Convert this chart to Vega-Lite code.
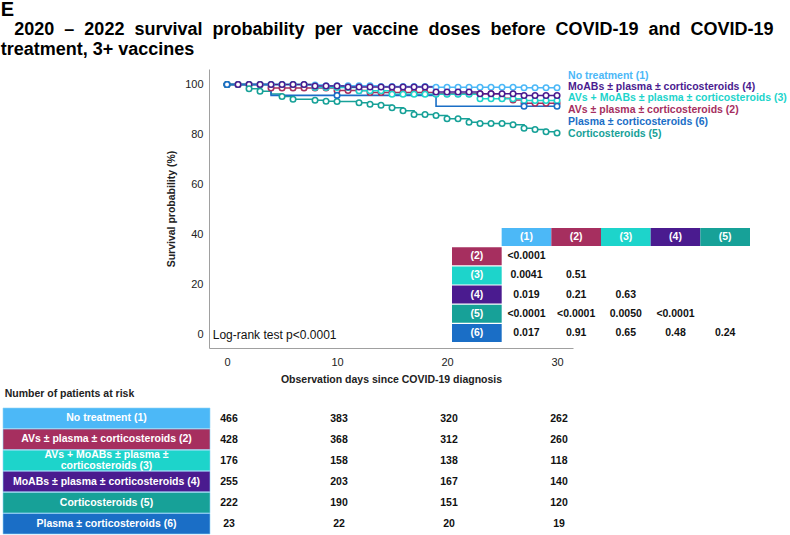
{
  "$schema": "https://vega.github.io/schema/vega-lite/v6.json",
  "background": "white",
  "padding": {"left": 0, "top": 0, "right": 0, "bottom": 0},
  "config": {"font": "Liberation Sans", "view": {"stroke": null}},
  "title": {
    "text": "E",
    "subtitle": ["\u200b\u00a0\u00a0\u20092020\u00a0 \u2013\u00a0 2022\u00a0 survival\u00a0 probability\u00a0 per\u00a0 vaccine\u00a0 doses\u00a0 before\u00a0 COVID-19\u00a0 and\u00a0 COVID-19", "treatment, 3+ vaccines"],
    "anchor": "start",
    "dx": -2,
    "font": "Liberation Sans",
    "fontSize": 20,
    "fontWeight": "bold",
    "color": "#000",
    "subtitleFont": "Liberation Sans",
    "subtitleFontSize": 18,
    "subtitleFontWeight": "bold",
    "subtitleColor": "#000",
    "subtitleLineHeight": 20,
    "subtitlePadding": 1,
    "offset": 10
  },
  "datasets": {
    "groups": [
      {"grp": "(1)", "name": "No treatment (1)", "riskLabel": "No treatment (1)"},
      {"grp": "(2)", "name": "AVs \u00b1 plasma \u00b1 corticosteroids (2)", "riskLabel": "AVs \u00b1 plasma \u00b1 corticosteroids (2)"},
      {"grp": "(3)", "name": "AVs + MoABs \u00b1 plasma \u00b1 corticosteroids (3)", "riskLabel": "AVs + MoABs \u00b1 plasma \u00b1\ncorticosteroids (3)"},
      {"grp": "(4)", "name": "MoABs \u00b1 plasma \u00b1 corticosteroids (4)", "riskLabel": "MoABs \u00b1 plasma \u00b1 corticosteroids (4)"},
      {"grp": "(5)", "name": "Corticosteroids (5)", "riskLabel": "Corticosteroids (5)"},
      {"grp": "(6)", "name": "Plasma \u00b1 corticosteroids (6)", "riskLabel": "Plasma \u00b1 corticosteroids (6)"}
    ],
    "km": [
      {"grp":"(1)","day":0,"surv":100,"censor":1},{"grp":"(1)","day":1,"surv":100,"censor":1},{"grp":"(1)","day":2,"surv":100,"censor":1},{"grp":"(1)","day":3,"surv":100,"censor":1},{"grp":"(1)","day":4,"surv":100,"censor":1},{"grp":"(1)","day":5,"surv":100,"censor":1},{"grp":"(1)","day":6,"surv":100,"censor":1},{"grp":"(1)","day":7,"surv":99.8,"censor":1},{"grp":"(1)","day":8,"surv":99.8,"censor":1},{"grp":"(1)","day":9,"surv":99.5,"censor":1},{"grp":"(1)","day":10,"surv":99.5,"censor":1},{"grp":"(1)","day":11,"surv":99.5,"censor":1},{"grp":"(1)","day":12,"surv":99.5,"censor":1},{"grp":"(1)","day":13,"surv":99.5,"censor":1},{"grp":"(1)","day":14,"surv":99.2,"censor":1},{"grp":"(1)","day":15,"surv":99.2,"censor":1},{"grp":"(1)","day":16,"surv":99.2,"censor":1},{"grp":"(1)","day":17,"surv":99.2,"censor":1},{"grp":"(1)","day":18,"surv":99.2,"censor":1},{"grp":"(1)","day":19,"surv":98.9,"censor":1},{"grp":"(1)","day":20,"surv":98.9,"censor":1},{"grp":"(1)","day":21,"surv":98.9,"censor":1},{"grp":"(1)","day":22,"surv":98.9,"censor":1},{"grp":"(1)","day":23,"surv":98.9,"censor":1},{"grp":"(1)","day":24,"surv":98.9,"censor":1},{"grp":"(1)","day":25,"surv":98.9,"censor":1},{"grp":"(1)","day":26,"surv":98.9,"censor":1},{"grp":"(1)","day":27,"surv":98.7,"censor":1},{"grp":"(1)","day":28,"surv":98.7,"censor":1},{"grp":"(1)","day":29,"surv":98.7,"censor":1},{"grp":"(1)","day":30,"surv":98.7,"censor":1},
      {"grp":"(2)","day":0,"surv":100,"censor":1},{"grp":"(2)","day":1,"surv":100,"censor":1},{"grp":"(2)","day":2,"surv":100,"censor":1},{"grp":"(2)","day":3,"surv":100,"censor":1},{"grp":"(2)","day":4,"surv":98.6,"censor":1},{"grp":"(2)","day":5,"surv":98.6,"censor":1},{"grp":"(2)","day":6,"surv":98.6,"censor":1},{"grp":"(2)","day":7,"surv":98.6,"censor":1},{"grp":"(2)","day":8,"surv":98.6,"censor":1},{"grp":"(2)","day":9,"surv":98.6,"censor":1},{"grp":"(2)","day":10,"surv":97.6,"censor":1},{"grp":"(2)","day":11,"surv":97.6,"censor":1},{"grp":"(2)","day":12,"surv":97.6,"censor":1},{"grp":"(2)","day":13,"surv":96.8,"censor":1},{"grp":"(2)","day":14,"surv":96.8,"censor":1},{"grp":"(2)","day":15,"surv":96.8,"censor":1},{"grp":"(2)","day":16,"surv":96.8,"censor":1},{"grp":"(2)","day":17,"surv":96.8,"censor":1},{"grp":"(2)","day":18,"surv":96.8,"censor":1},{"grp":"(2)","day":19,"surv":96.3,"censor":1},{"grp":"(2)","day":20,"surv":96.3,"censor":1},{"grp":"(2)","day":21,"surv":96.3,"censor":1},{"grp":"(2)","day":22,"surv":96.3,"censor":1},{"grp":"(2)","day":23,"surv":96.3,"censor":1},{"grp":"(2)","day":24,"surv":96.3,"censor":1},{"grp":"(2)","day":25,"surv":94.5,"censor":1},{"grp":"(2)","day":26,"surv":93.8,"censor":1},{"grp":"(2)","day":27,"surv":92.5,"censor":1},{"grp":"(2)","day":28,"surv":92.5,"censor":1},{"grp":"(2)","day":29,"surv":92.5,"censor":1},{"grp":"(2)","day":30,"surv":92.5,"censor":1},
      {"grp":"(3)","day":0,"surv":100,"censor":1},{"grp":"(3)","day":1,"surv":100,"censor":1},{"grp":"(3)","day":2,"surv":100,"censor":1},{"grp":"(3)","day":3,"surv":100,"censor":1},{"grp":"(3)","day":4,"surv":100,"censor":1},{"grp":"(3)","day":5,"surv":100,"censor":1},{"grp":"(3)","day":6,"surv":100,"censor":1},{"grp":"(3)","day":7,"surv":100,"censor":1},{"grp":"(3)","day":8,"surv":98.8,"censor":1},{"grp":"(3)","day":9,"surv":98.8,"censor":1},{"grp":"(3)","day":10,"surv":98.8,"censor":1},{"grp":"(3)","day":11,"surv":98.8,"censor":1},{"grp":"(3)","day":12,"surv":97.5,"censor":1},{"grp":"(3)","day":13,"surv":97.5,"censor":1},{"grp":"(3)","day":14,"surv":97.5,"censor":1},{"grp":"(3)","day":15,"surv":96.1,"censor":1},{"grp":"(3)","day":16,"surv":96.1,"censor":1},{"grp":"(3)","day":17,"surv":96.1,"censor":1},{"grp":"(3)","day":18,"surv":96.1,"censor":1},{"grp":"(3)","day":19,"surv":96.1,"censor":1},{"grp":"(3)","day":20,"surv":96.1,"censor":1},{"grp":"(3)","day":21,"surv":96.1,"censor":1},{"grp":"(3)","day":22,"surv":96.1,"censor":1},{"grp":"(3)","day":23,"surv":94.3,"censor":1},{"grp":"(3)","day":24,"surv":94.3,"censor":1},{"grp":"(3)","day":25,"surv":94.3,"censor":1},{"grp":"(3)","day":26,"surv":94.3,"censor":1},{"grp":"(3)","day":27,"surv":93.6,"censor":1},{"grp":"(3)","day":28,"surv":93.6,"censor":1},{"grp":"(3)","day":29,"surv":93.6,"censor":1},{"grp":"(3)","day":30,"surv":93.6,"censor":1},
      {"grp":"(4)","day":0,"surv":100,"censor":1},{"grp":"(4)","day":1,"surv":100,"censor":1},{"grp":"(4)","day":2,"surv":100,"censor":1},{"grp":"(4)","day":3,"surv":100,"censor":1},{"grp":"(4)","day":4,"surv":100,"censor":1},{"grp":"(4)","day":5,"surv":100,"censor":1},{"grp":"(4)","day":6,"surv":100,"censor":1},{"grp":"(4)","day":7,"surv":100,"censor":1},{"grp":"(4)","day":8,"surv":99.4,"censor":1},{"grp":"(4)","day":9,"surv":99.4,"censor":1},{"grp":"(4)","day":10,"surv":99.4,"censor":1},{"grp":"(4)","day":11,"surv":99.0,"censor":1},{"grp":"(4)","day":12,"surv":99.0,"censor":1},{"grp":"(4)","day":13,"surv":99.0,"censor":1},{"grp":"(4)","day":14,"surv":99.0,"censor":1},{"grp":"(4)","day":15,"surv":99.0,"censor":1},{"grp":"(4)","day":16,"surv":99.0,"censor":1},{"grp":"(4)","day":17,"surv":99.0,"censor":1},{"grp":"(4)","day":18,"surv":99.0,"censor":1},{"grp":"(4)","day":19,"surv":97.0,"censor":1},{"grp":"(4)","day":20,"surv":97.0,"censor":1},{"grp":"(4)","day":21,"surv":97.0,"censor":1},{"grp":"(4)","day":22,"surv":97.0,"censor":1},{"grp":"(4)","day":23,"surv":96.3,"censor":1},{"grp":"(4)","day":24,"surv":96.3,"censor":1},{"grp":"(4)","day":25,"surv":96.3,"censor":1},{"grp":"(4)","day":26,"surv":96.3,"censor":1},{"grp":"(4)","day":27,"surv":95.6,"censor":1},{"grp":"(4)","day":28,"surv":95.6,"censor":1},{"grp":"(4)","day":29,"surv":95.6,"censor":1},{"grp":"(4)","day":30,"surv":95.6,"censor":1},
      {"grp":"(5)","day":0,"surv":100,"censor":1},{"grp":"(5)","day":1,"surv":100,"censor":0},{"grp":"(5)","day":2,"surv":98.3,"censor":1},{"grp":"(5)","day":3,"surv":97.3,"censor":1},{"grp":"(5)","day":4,"surv":96.2,"censor":0},{"grp":"(5)","day":5,"surv":95.2,"censor":1},{"grp":"(5)","day":6,"surv":94.1,"censor":1},{"grp":"(5)","day":7,"surv":94.1,"censor":0},{"grp":"(5)","day":8,"surv":93.7,"censor":1},{"grp":"(5)","day":9,"surv":93.3,"censor":1},{"grp":"(5)","day":10,"surv":93.2,"censor":1},{"grp":"(5)","day":11,"surv":93.2,"censor":0},{"grp":"(5)","day":12,"surv":92.7,"censor":1},{"grp":"(5)","day":13,"surv":92.1,"censor":1},{"grp":"(5)","day":14,"surv":91.7,"censor":1},{"grp":"(5)","day":15,"surv":90.7,"censor":1},{"grp":"(5)","day":16,"surv":89.5,"censor":1},{"grp":"(5)","day":17,"surv":88.0,"censor":1},{"grp":"(5)","day":18,"surv":88.0,"censor":1},{"grp":"(5)","day":19,"surv":87.6,"censor":1},{"grp":"(5)","day":20,"surv":86.3,"censor":1},{"grp":"(5)","day":21,"surv":86.3,"censor":1},{"grp":"(5)","day":22,"surv":84.9,"censor":1},{"grp":"(5)","day":23,"surv":84.4,"censor":1},{"grp":"(5)","day":24,"surv":84.4,"censor":1},{"grp":"(5)","day":25,"surv":84.4,"censor":1},{"grp":"(5)","day":26,"surv":83.9,"censor":1},{"grp":"(5)","day":27,"surv":82.5,"censor":1},{"grp":"(5)","day":28,"surv":82.0,"censor":1},{"grp":"(5)","day":29,"surv":81.1,"censor":1},{"grp":"(5)","day":30,"surv":80.6,"censor":1},
      {"grp":"(6)","day":0,"surv":100,"censor":1},{"grp":"(6)","day":1,"surv":100,"censor":0},{"grp":"(6)","day":2,"surv":100,"censor":0},{"grp":"(6)","day":3,"surv":100,"censor":0},{"grp":"(6)","day":4,"surv":95.65,"censor":0},{"grp":"(6)","day":5,"surv":95.65,"censor":0},{"grp":"(6)","day":6,"surv":95.65,"censor":0},{"grp":"(6)","day":7,"surv":95.65,"censor":0},{"grp":"(6)","day":8,"surv":95.65,"censor":0},{"grp":"(6)","day":9,"surv":95.65,"censor":0},{"grp":"(6)","day":10,"surv":95.65,"censor":1},{"grp":"(6)","day":11,"surv":95.65,"censor":0},{"grp":"(6)","day":12,"surv":95.65,"censor":0},{"grp":"(6)","day":13,"surv":95.65,"censor":0},{"grp":"(6)","day":14,"surv":95.65,"censor":0},{"grp":"(6)","day":15,"surv":95.65,"censor":0},{"grp":"(6)","day":16,"surv":95.65,"censor":0},{"grp":"(6)","day":17,"surv":95.65,"censor":0},{"grp":"(6)","day":18,"surv":95.65,"censor":0},{"grp":"(6)","day":19,"surv":91.3,"censor":0},{"grp":"(6)","day":20,"surv":91.3,"censor":0},{"grp":"(6)","day":21,"surv":91.3,"censor":0},{"grp":"(6)","day":22,"surv":91.3,"censor":0},{"grp":"(6)","day":23,"surv":91.3,"censor":0},{"grp":"(6)","day":24,"surv":91.3,"censor":0},{"grp":"(6)","day":25,"surv":91.3,"censor":0},{"grp":"(6)","day":26,"surv":91.3,"censor":0},{"grp":"(6)","day":27,"surv":91.3,"censor":1},{"grp":"(6)","day":28,"surv":91.3,"censor":0},{"grp":"(6)","day":29,"surv":91.3,"censor":0},{"grp":"(6)","day":30,"surv":91.3,"censor":1}
    ],
    "phead": [
      {"row": "head", "col": "(1)", "grp": "(1)"},
      {"row": "head", "col": "(2)", "grp": "(2)"},
      {"row": "head", "col": "(3)", "grp": "(3)"},
      {"row": "head", "col": "(4)", "grp": "(4)"},
      {"row": "head", "col": "(5)", "grp": "(5)"},
      {"row": "(2)", "col": "head", "grp": "(2)"},
      {"row": "(3)", "col": "head", "grp": "(3)"},
      {"row": "(4)", "col": "head", "grp": "(4)"},
      {"row": "(5)", "col": "head", "grp": "(5)"},
      {"row": "(6)", "col": "head", "grp": "(6)"}
    ],
    "pvals": [
      {"row": "(2)", "col": "(1)", "p": "<0.0001"},
      {"row": "(3)", "col": "(1)", "p": "0.0041"},
      {"row": "(3)", "col": "(2)", "p": "0.51"},
      {"row": "(4)", "col": "(1)", "p": "0.019"},
      {"row": "(4)", "col": "(2)", "p": "0.21"},
      {"row": "(4)", "col": "(3)", "p": "0.63"},
      {"row": "(5)", "col": "(1)", "p": "<0.0001"},
      {"row": "(5)", "col": "(2)", "p": "<0.0001"},
      {"row": "(5)", "col": "(3)", "p": "0.0050"},
      {"row": "(5)", "col": "(4)", "p": "<0.0001"},
      {"row": "(6)", "col": "(1)", "p": "0.017"},
      {"row": "(6)", "col": "(2)", "p": "0.91"},
      {"row": "(6)", "col": "(3)", "p": "0.65"},
      {"row": "(6)", "col": "(4)", "p": "0.48"},
      {"row": "(6)", "col": "(5)", "p": "0.24"}
    ],
    "risk": [
      {"grp": "(1)", "day": 0, "n": 466}, {"grp": "(1)", "day": 10, "n": 383}, {"grp": "(1)", "day": 20, "n": 320}, {"grp": "(1)", "day": 30, "n": 262},
      {"grp": "(2)", "day": 0, "n": 428}, {"grp": "(2)", "day": 10, "n": 368}, {"grp": "(2)", "day": 20, "n": 312}, {"grp": "(2)", "day": 30, "n": 260},
      {"grp": "(3)", "day": 0, "n": 176}, {"grp": "(3)", "day": 10, "n": 158}, {"grp": "(3)", "day": 20, "n": 138}, {"grp": "(3)", "day": 30, "n": 118},
      {"grp": "(4)", "day": 0, "n": 255}, {"grp": "(4)", "day": 10, "n": 203}, {"grp": "(4)", "day": 20, "n": 167}, {"grp": "(4)", "day": 30, "n": 140},
      {"grp": "(5)", "day": 0, "n": 222}, {"grp": "(5)", "day": 10, "n": 190}, {"grp": "(5)", "day": 20, "n": 151}, {"grp": "(5)", "day": 30, "n": 120},
      {"grp": "(6)", "day": 0, "n": 23}, {"grp": "(6)", "day": 10, "n": 22}, {"grp": "(6)", "day": 20, "n": 20}, {"grp": "(6)", "day": 30, "n": 19}
    ]
  },
  "spacing": 4,
  "vconcat": [
    {
      "spacing": 5,
      "hconcat": [
        {
          "width": 158,
          "height": 279,
          "data": {"values": [{"blank": ""}]},
          "mark": {"type": "text"},
          "encoding": {"text": {"field": "blank"}}
        },
        {
          "width": 364,
          "height": 279,
          "resolve": {"scale": {"x": "independent", "y": "independent"}},
          "layer": [
            {
              "layer": [
                {
                  "data": {"name": "km"},
                  "mark": {"type": "line", "interpolate": "step-after", "strokeWidth": 1.6},
                  "encoding": {
                    "x": {"field": "day", "type": "quantitative",
                      "scale": {"domain": [-1.64, 31.45], "nice": false, "zero": false},
                      "axis": {"values": [0, 10, 20, 30], "ticks": false, "grid": false, "domainColor": "#a0a0a0", "labelFontSize": 11, "labelColor": "#222", "labelPadding": 8, "labelFlush": false,
                        "title": "Observation days since COVID-19 diagnosis", "titleFontSize": 10.5, "titleFontWeight": "bold", "titleColor": "#222", "titlePadding": 7}},
                    "y": {"field": "surv", "type": "quantitative",
                      "scale": {"domain": [-5.4, 106.2], "nice": false, "zero": false},
                      "axis": {"values": [0, 20, 40, 60, 80, 100], "ticks": false, "grid": false, "domainColor": "#a0a0a0", "labelFontSize": 11, "labelColor": "#222", "labelPadding": 6,
                        "title": "Survival probability (%)", "titleFontSize": 10.5, "titleFontWeight": "bold", "titleColor": "#222", "titlePadding": 8}},
                    "color": {"field": "grp", "type": "nominal",
                      "scale": {"domain": ["(1)", "(2)", "(3)", "(4)", "(5)", "(6)"], "range": ["#4cb8f7", "#a62f5f", "#1dd4cb", "#4a1b8f", "#17a198", "#1a6ec6"]},
                      "legend": null},
                    "order": {"field": "day"}
                  }
                },
                {
                  "data": {"name": "km"},
                  "transform": [{"filter": "datum.censor == 1"}],
                  "mark": {"type": "point", "shape": "circle", "filled": false, "fill": "white", "fillOpacity": 1, "size": 30, "strokeWidth": 1.6, "opacity": 1},
                  "encoding": {
                    "x": {"field": "day", "type": "quantitative"},
                    "y": {"field": "surv", "type": "quantitative"},
                    "color": {"field": "grp", "type": "nominal"}
                  }
                },
                {
                  "data": {"values": [{"note": "Log-rank test p<0.0001"}]},
                  "mark": {"type": "text", "align": "left", "baseline": "middle", "fontSize": 12, "color": "#111"},
                  "encoding": {"x": {"datum": -1.3}, "y": {"datum": 0}, "text": {"field": "note"}}
                },
                {
                  "data": {"name": "km"},
                  "transform": [{"filter": "datum.day == 30 && datum.grp == '(1)'"}, {"lookup": "grp", "from": {"data": {"name": "groups"}, "key": "grp", "fields": ["name"]}}],
                  "mark": {"type": "text", "align": "left", "baseline": "middle", "fontSize": 10.5, "fontWeight": "bold", "dx": 11, "dy": -11.75},
                  "encoding": {"x": {"field": "day", "type": "quantitative"}, "y": {"field": "surv", "type": "quantitative"}, "text": {"field": "name"}, "color": {"field": "grp", "type": "nominal"}}
                },
                {
                  "data": {"name": "km"},
                  "transform": [{"filter": "datum.day == 30 && datum.grp == '(4)'"}, {"lookup": "grp", "from": {"data": {"name": "groups"}, "key": "grp", "fields": ["name"]}}],
                  "mark": {"type": "text", "align": "left", "baseline": "middle", "fontSize": 10.5, "fontWeight": "bold", "dx": 11, "dy": -8.5},
                  "encoding": {"x": {"field": "day", "type": "quantitative"}, "y": {"field": "surv", "type": "quantitative"}, "text": {"field": "name"}, "color": {"field": "grp", "type": "nominal"}}
                },
                {
                  "data": {"name": "km"},
                  "transform": [{"filter": "datum.day == 30 && datum.grp == '(3)'"}, {"lookup": "grp", "from": {"data": {"name": "groups"}, "key": "grp", "fields": ["name"]}}],
                  "mark": {"type": "text", "align": "left", "baseline": "middle", "fontSize": 10.5, "fontWeight": "bold", "dx": 11, "dy": -2.25},
                  "encoding": {"x": {"field": "day", "type": "quantitative"}, "y": {"field": "surv", "type": "quantitative"}, "text": {"field": "name"}, "color": {"field": "grp", "type": "nominal"}}
                },
                {
                  "data": {"name": "km"},
                  "transform": [{"filter": "datum.day == 30 && datum.grp == '(2)'"}, {"lookup": "grp", "from": {"data": {"name": "groups"}, "key": "grp", "fields": ["name"]}}],
                  "mark": {"type": "text", "align": "left", "baseline": "middle", "fontSize": 10.5, "fontWeight": "bold", "dx": 11, "dy": 7},
                  "encoding": {"x": {"field": "day", "type": "quantitative"}, "y": {"field": "surv", "type": "quantitative"}, "text": {"field": "name"}, "color": {"field": "grp", "type": "nominal"}}
                },
                {
                  "data": {"name": "km"},
                  "transform": [{"filter": "datum.day == 30 && datum.grp == '(6)'"}, {"lookup": "grp", "from": {"data": {"name": "groups"}, "key": "grp", "fields": ["name"]}}],
                  "mark": {"type": "text", "align": "left", "baseline": "middle", "fontSize": 10.5, "fontWeight": "bold", "dx": 11, "dy": 15.5},
                  "encoding": {"x": {"field": "day", "type": "quantitative"}, "y": {"field": "surv", "type": "quantitative"}, "text": {"field": "name"}, "color": {"field": "grp", "type": "nominal"}}
                },
                {
                  "data": {"name": "km"},
                  "transform": [{"filter": "datum.day == 30 && datum.grp == '(5)'"}, {"lookup": "grp", "from": {"data": {"name": "groups"}, "key": "grp", "fields": ["name"]}}],
                  "mark": {"type": "text", "align": "left", "baseline": "middle", "fontSize": 10.5, "fontWeight": "bold", "dx": 11, "dy": 0.75},
                  "encoding": {"x": {"field": "day", "type": "quantitative"}, "y": {"field": "surv", "type": "quantitative"}, "text": {"field": "name"}, "color": {"field": "grp", "type": "nominal"}}
                }
              ]
            },
            {
              "layer": [
                {
                  "data": {"name": "phead"},
                  "mark": {"type": "rect"},
                  "encoding": {
                    "x": {"field": "col", "type": "nominal", "scale": {"type": "band", "domain": ["head", "(1)", "(2)", "(3)", "(4)", "(5)"], "range": [243, 541], "paddingInner": 0, "paddingOuter": 0}, "axis": null},
                    "y": {"field": "row", "type": "nominal", "scale": {"type": "band", "domain": ["head", "(2)", "(3)", "(4)", "(5)", "(6)"], "range": [159, 273], "paddingInner": 0.06, "paddingOuter": 0}, "axis": null},
                    "color": {"field": "grp", "type": "nominal"}
                  }
                },
                {
                  "data": {"name": "phead"},
                  "mark": {"type": "text", "color": "white", "fontWeight": "bold", "fontSize": 10.5, "baseline": "middle"},
                  "encoding": {
                    "x": {"field": "col", "type": "nominal"},
                    "y": {"field": "row", "type": "nominal"},
                    "text": {"field": "grp"}
                  }
                },
                {
                  "data": {"name": "pvals"},
                  "mark": {"type": "text", "color": "#111", "fontWeight": "bold", "fontSize": 10.5, "baseline": "middle"},
                  "encoding": {
                    "x": {"field": "col", "type": "nominal"},
                    "y": {"field": "row", "type": "nominal"},
                    "text": {"field": "p"}
                  }
                }
              ]
            }
          ]
        }
      ]
    },
    {
      "spacing": 0,
      "hconcat": [
        {
          "width": 207,
          "height": 126,
          "title": {"text": "Number of patients at risk", "anchor": "start", "fontSize": 10.5, "fontWeight": "bold", "color": "#222", "offset": 8, "dx": 2},
          "data": {"name": "groups"},
          "layer": [
            {
              "mark": {"type": "rect", "stroke": "#8fd3f7", "strokeWidth": 0.6},
              "encoding": {
                "y": {"field": "grp", "type": "nominal", "scale": {"domain": ["(1)", "(2)", "(3)", "(4)", "(5)", "(6)"], "paddingInner": 0.03, "paddingOuter": 0}, "axis": null},
                "color": {"field": "grp", "type": "nominal", "scale": {"domain": ["(1)", "(2)", "(3)", "(4)", "(5)", "(6)"], "range": ["#4cb8f7", "#a62f5f", "#1dd4cb", "#4a1b8f", "#17a198", "#1a6ec6"]}, "legend": null}
              }
            },
            {
              "transform": [{"filter": "datum.grp != '(3)'"}],
              "mark": {"type": "text", "color": "white", "fontWeight": "bold", "fontSize": 10.5, "baseline": "middle"},
              "encoding": {
                "y": {"field": "grp", "type": "nominal"},
                "text": {"field": "riskLabel"}
              }
            },
            {
              "transform": [{"filter": "datum.grp == '(3)'"}],
              "mark": {"type": "text", "color": "white", "fontWeight": "bold", "fontSize": 10.5, "lineBreak": "\n", "lineHeight": 10.5, "baseline": "middle", "dy": -5},
              "encoding": {
                "y": {"field": "grp", "type": "nominal"},
                "text": {"field": "riskLabel"}
              }
            }
          ]
        },
        {
          "width": 364,
          "height": 126,
          "data": {"name": "risk"},
          "mark": {"type": "text", "color": "#111", "fontWeight": "bold", "fontSize": 10.5, "baseline": "middle"},
          "encoding": {
            "x": {"field": "day", "type": "quantitative", "scale": {"domain": [-1.64, 31.45], "nice": false, "zero": false}, "axis": null},
            "y": {"field": "grp", "type": "nominal", "scale": {"domain": ["(1)", "(2)", "(3)", "(4)", "(5)", "(6)"], "paddingInner": 0.03, "paddingOuter": 0}, "axis": null},
            "text": {"field": "n"}
          }
        }
      ]
    }
  ]
}
